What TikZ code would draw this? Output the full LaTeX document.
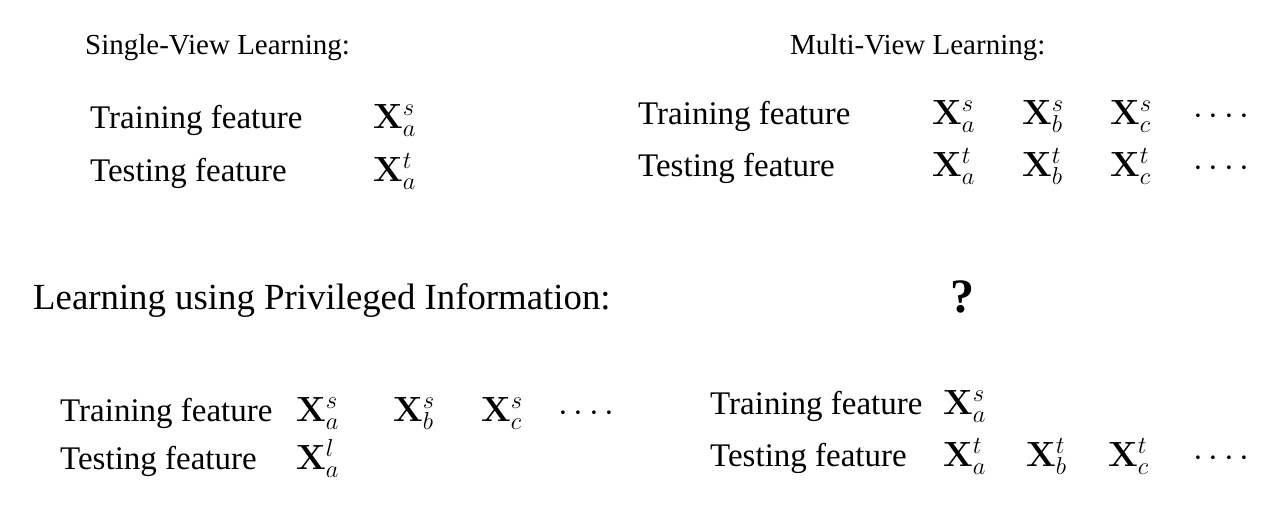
\RequirePackage{fix-cm}
\documentclass[tikz,border=0pt]{standalone}
\usepackage[no-math]{fontspec}
\setmainfont{Liberation Serif}
\usepackage{amsmath}
\newcommand{\fourdots}{{\cdot}\mkern3mu{\cdot}\mkern3mu{\cdot}\mkern3mu{\cdot}}
\begin{document}
\begin{tikzpicture}[x=1pt,y=-1pt,
  lbl/.style={anchor=base west,inner sep=0pt,font=\fontsize{33}{36}\selectfont},
  head/.style={anchor=base west,inner sep=0pt,font=\fontsize{29}{32}\selectfont},
  bighead/.style={anchor=base west,inner sep=0pt,font=\fontsize{36.8}{40}\selectfont},
  mth/.style={anchor=base west,inner sep=0pt,font=\fontsize{35}{38}\selectfont}]
\useasboundingbox (0,0) rectangle (1276,514);
% Single-view
\node[head] (svh) at (85,54) {Single-View Learning:};
\node[lbl] (svtr) at (90,128) {Training feature};
\node[lbl] (svte) at (90,181) {Testing feature};
\node[mth] (svxs) at (373,128) {$\mathbf{X}_a^s$};
\node[mth] (svxt) at (373,181) {$\mathbf{X}_a^t$};
% Multi-view
\node[head] (mvh) at (790,54) {Multi-View Learning:};
\node[lbl] (mvtr) at (638,124) {Training feature};
\node[lbl] (mvte) at (638,176) {Testing feature};
\node[mth] (mvas) at (932,124) {$\mathbf{X}_a^s$};
\node[mth] (mvbs) at (1022,124) {$\mathbf{X}_b^s$};
\node[mth] (mvcs) at (1110,124) {$\mathbf{X}_c^s$};
\node[mth] (mvds) at (1193,124) {$\fourdots$};
\node[mth] (mvat) at (932,176) {$\mathbf{X}_a^t$};
\node[mth] (mvbt) at (1022,176) {$\mathbf{X}_b^t$};
\node[mth] (mvct) at (1110,176) {$\mathbf{X}_c^t$};
\node[mth] (mvdt) at (1193,176) {$\fourdots$};
% LUPI
\node[bighead] (luh) at (33,309) {Learning using Privileged Information:};
\node[anchor=base west,inner sep=0pt,font=\fontsize{48}{52}\selectfont\bfseries] (q) at (950,312) {?};
% bottom left
\node[lbl] (bltr) at (60,421) {Training feature};
\node[lbl] (blte) at (60,469) {Testing feature};
\node[mth] (blas) at (296,421) {$\mathbf{X}_a^s$};
\node[mth] (blbs) at (393,421) {$\mathbf{X}_b^s$};
\node[mth] (blcs) at (481,421) {$\mathbf{X}_c^s$};
\node[mth] (blds) at (558,421) {$\fourdots$};
\node[mth] (blat) at (296,469) {$\mathbf{X}_a^l$};
% bottom right
\node[lbl] (brtr) at (710,414) {Training feature};
\node[lbl] (brte) at (710,466) {Testing feature};
\node[mth] (bras) at (943,414) {$\mathbf{X}_a^s$};
\node[mth] (brat) at (943,466) {$\mathbf{X}_a^t$};
\node[mth] (brbt) at (1026,466) {$\mathbf{X}_b^t$};
\node[mth] (brct) at (1108,466) {$\mathbf{X}_c^t$};
\node[mth] (brdt) at (1193,466) {$\fourdots$};
\end{tikzpicture}
\end{document}
